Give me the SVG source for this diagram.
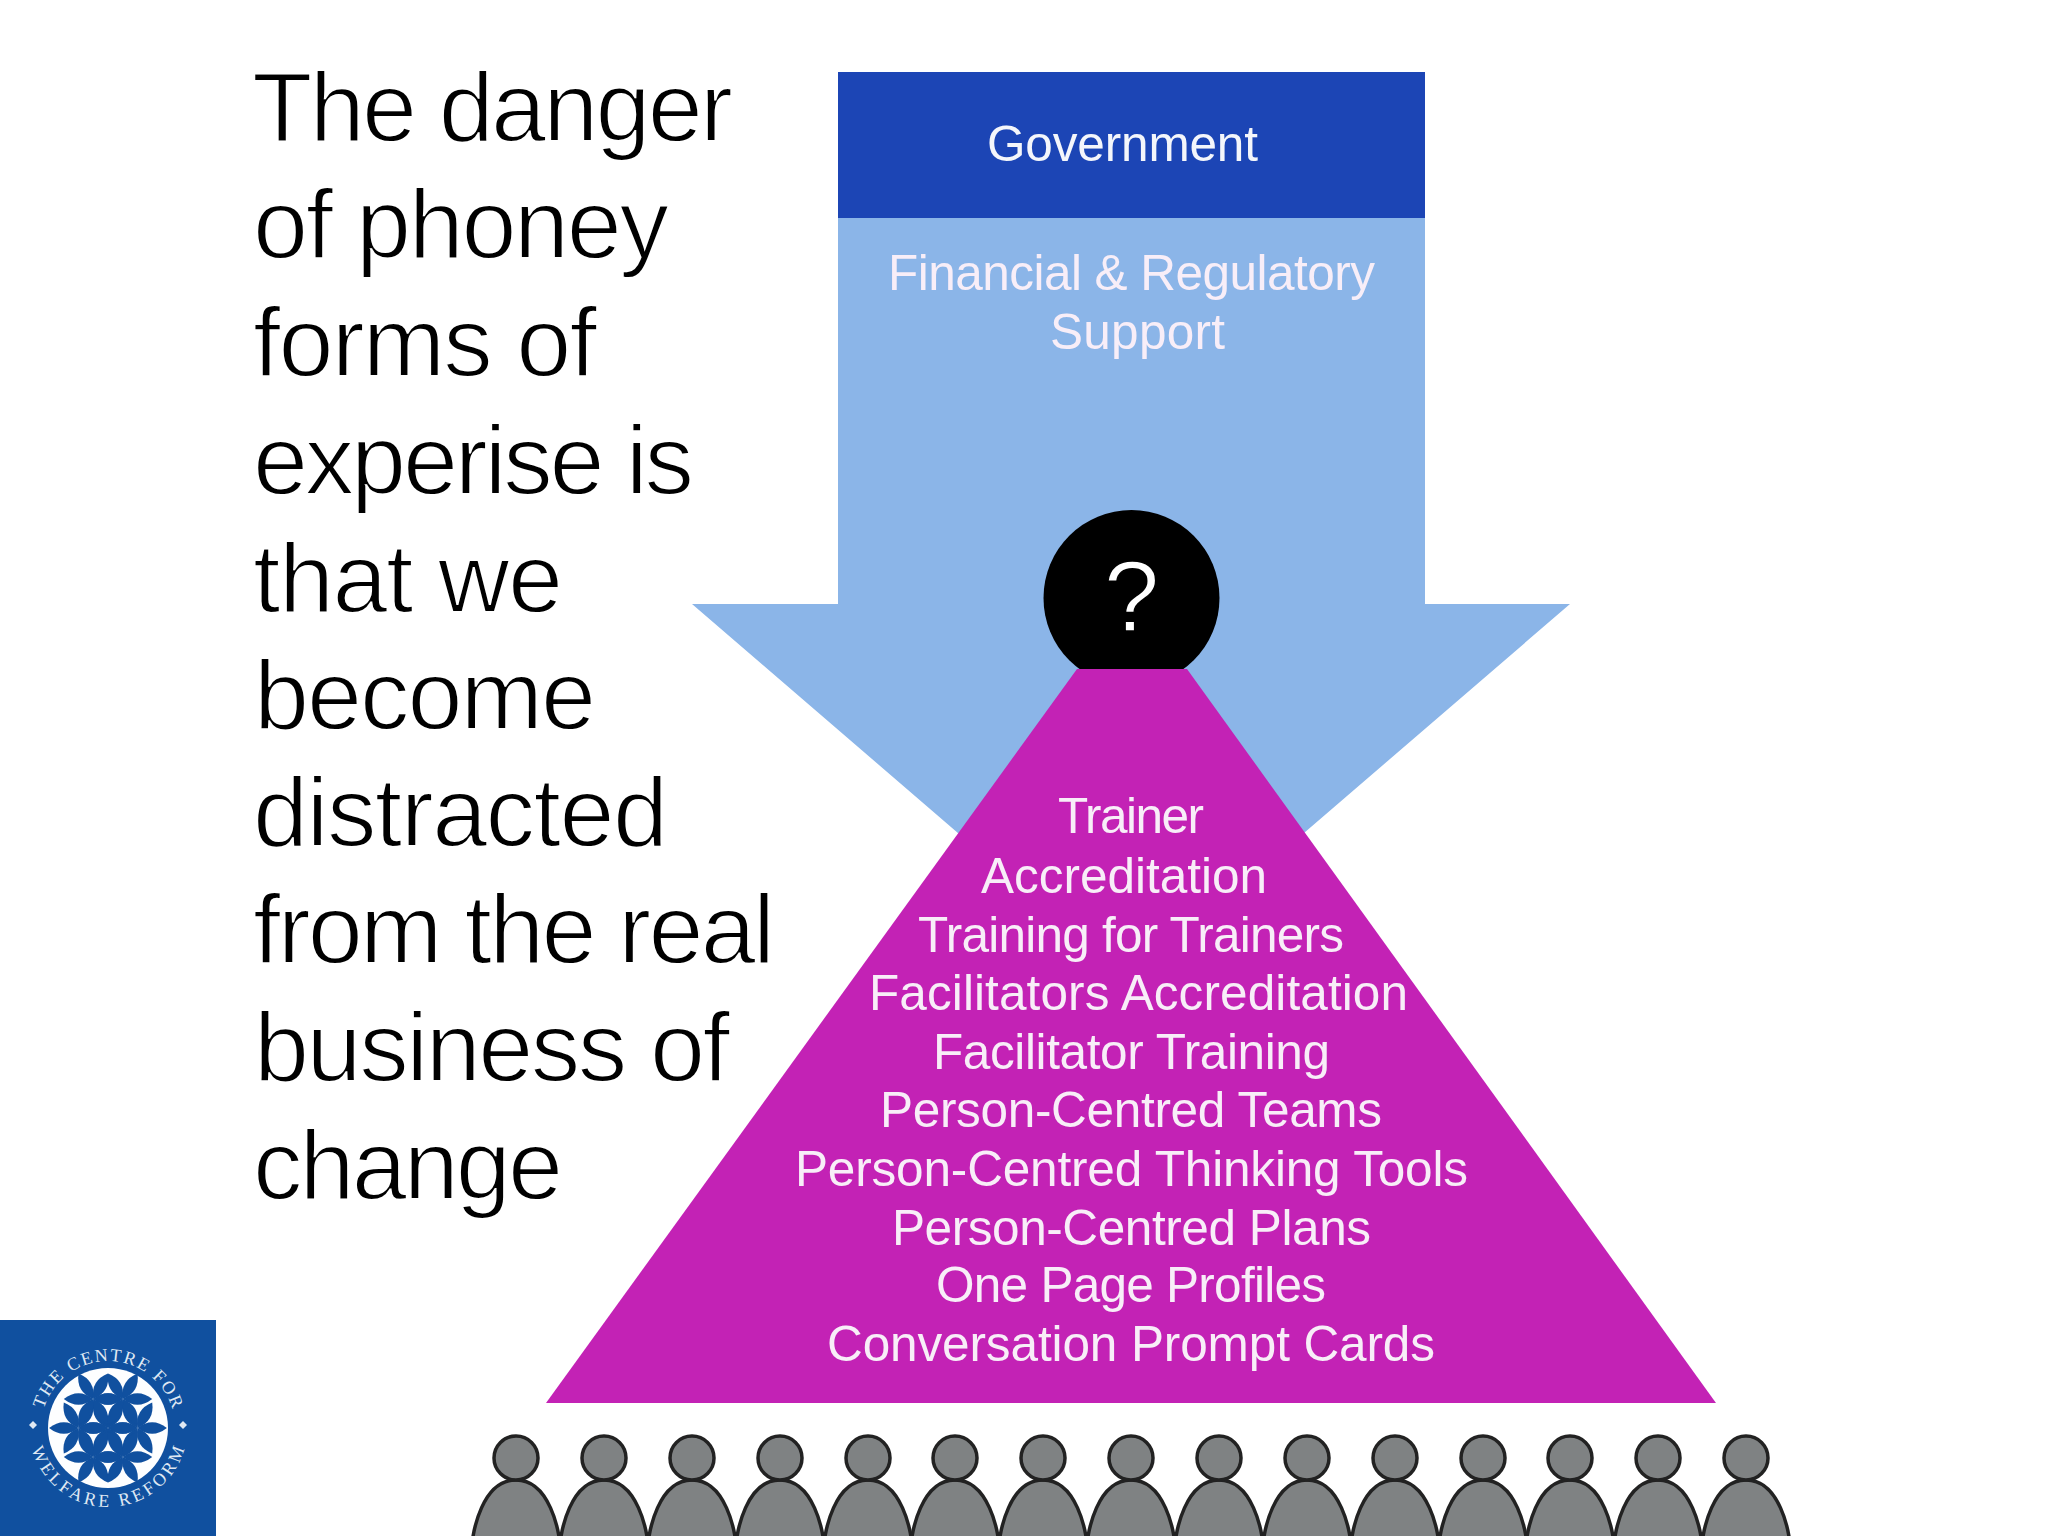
<svg xmlns="http://www.w3.org/2000/svg" width="2048" height="1536" viewBox="0 0 2048 1536">
<style>
.big{font-family:"Liberation Sans",Arial,sans-serif;font-size:99px;fill:#000;stroke:#fff;stroke-width:2px}
.w{font-family:"Liberation Sans",Arial,sans-serif;font-size:49.500px;fill:#f8eef8;stroke:none}
.logo{font-family:"Liberation Serif",serif;font-size:18px;fill:#dfe8f3}
.p{fill:#7f8283;stroke:#222;stroke-width:3.500}
.pet{fill:#10509f}
</style>
<defs>
<g id="person">
<path class="p" d="M-45,60 C-45,25 -32,-22 0,-22 C32,-22 45,25 45,60 Z"/>
<circle class="p" cx="0" cy="-44" r="22"/>
</g>
<path id="petal" class="pet" d="M0,0 Q14.700,-11.500 29.400,0 Q14.700,11.500 0,0 Z"/>
<g id="flower">
<use href="#petal"/><use href="#petal" transform="rotate(60)"/><use href="#petal" transform="rotate(120)"/>
<use href="#petal" transform="rotate(180)"/><use href="#petal" transform="rotate(240)"/><use href="#petal" transform="rotate(300)"/>
</g>
<path id="arcTop" d="M41,1428 A67,67 0 0 1 175,1428"/>
<path id="arcBot" d="M29,1428 A79,79 0 0 0 187,1428"/>
</defs>
<rect width="2048" height="1536" fill="#fff"/>
<g id="heading">
<text class="big" x="252" y="141" textLength="481">The danger</text>
<text class="big" x="253" y="258" textLength="416">of phoney</text>
<text class="big" x="253" y="376" textLength="344">forms of</text>
<text class="big" x="253" y="494" textLength="441">experise is</text>
<text class="big" x="253" y="612" textLength="310">that we</text>
<text class="big" x="254" y="729" textLength="342">become</text>
<text class="big" x="253" y="846" textLength="415">distracted</text>
<text class="big" x="253" y="963" textLength="522">from the real</text>
<text class="big" x="254" y="1081" textLength="476">business of</text>
<text class="big" x="253" y="1199" textLength="310">change</text>
</g>
<g id="arrow">
<polygon fill="#8bb5e8" points="838,218 1425,218 1425,604 1570,604 1131,982 692,604 838,604"/>
<text class="w" x="888" y="290" textLength="487">Financial &amp; Regulatory</text>
<text class="w" x="1050" y="349" textLength="175">Support</text>
</g>
<g id="government">
<rect x="838" y="72" width="587" height="146" fill="#1c45b5"/>
<text class="w" x="987" y="161" textLength="271" style="fill:#f4f6fb">Government</text>
</g>
<g id="question">
<circle cx="1131.500" cy="598" r="88" fill="#000"/>
<text x="1131.500" y="631" text-anchor="middle" font-family="'Liberation Sans',Arial,sans-serif" font-size="100" fill="#fff" stroke="#000" stroke-width="1.500">?</text>
</g>
<g id="pyramid">
<polygon fill="#c322b5" points="1077,669 1187,669 1716,1403 546,1403"/>
<text class="w" x="1058" y="833" textLength="146">Trainer</text>
<text class="w" x="981" y="893" textLength="286">Accreditation</text>
<text class="w" x="918" y="952" textLength="426">Training for Trainers</text>
<text class="w" x="869" y="1010" textLength="539">Facilitators Accreditation</text>
<text class="w" x="933" y="1069" textLength="397">Facilitator Training</text>
<text class="w" x="880" y="1127" textLength="502">Person-Centred Teams</text>
<text class="w" x="795" y="1186" textLength="673">Person-Centred Thinking Tools</text>
<text class="w" x="892" y="1245" textLength="479">Person-Centred Plans</text>
<text class="w" x="936" y="1302" textLength="390">One Page Profiles</text>
<text class="w" x="827" y="1361" textLength="608">Conversation Prompt Cards</text>
</g>
<g id="people">
<use href="#person" x="516" y="1502"/><use href="#person" x="604" y="1502"/><use href="#person" x="692" y="1502"/>
<use href="#person" x="780" y="1502"/><use href="#person" x="868" y="1502"/><use href="#person" x="955" y="1502"/>
<use href="#person" x="1043" y="1502"/><use href="#person" x="1131" y="1502"/><use href="#person" x="1219" y="1502"/>
<use href="#person" x="1307" y="1502"/><use href="#person" x="1395" y="1502"/><use href="#person" x="1483" y="1502"/>
<use href="#person" x="1570" y="1502"/><use href="#person" x="1658" y="1502"/><use href="#person" x="1746" y="1502"/>
</g>
<g id="logo">
<rect x="0" y="1320" width="216" height="216" fill="#10509f"/>
<circle cx="108" cy="1428" r="60" fill="#fdfeff"/>
<use href="#flower" x="108" y="1428"/><use href="#flower" x="78.500" y="1428"/><use href="#flower" x="137.500" y="1428"/>
<use href="#flower" x="93.200" y="1399"/><use href="#flower" x="122.800" y="1399"/>
<use href="#flower" x="93.200" y="1457"/><use href="#flower" x="122.800" y="1457"/>
<text class="logo"><textPath href="#arcTop" startOffset="50%" text-anchor="middle" textLength="172">THE CENTRE FOR</textPath></text>
<text class="logo"><textPath href="#arcBot" startOffset="50%" text-anchor="middle" textLength="206">WELFARE REFORM</textPath></text>
<polygon fill="#dfe8f3" points="33,1421 37,1425 33,1429 29,1425"/>
<polygon fill="#dfe8f3" points="183,1421 187,1425 183,1429 179,1425"/>
</g>
</svg>
